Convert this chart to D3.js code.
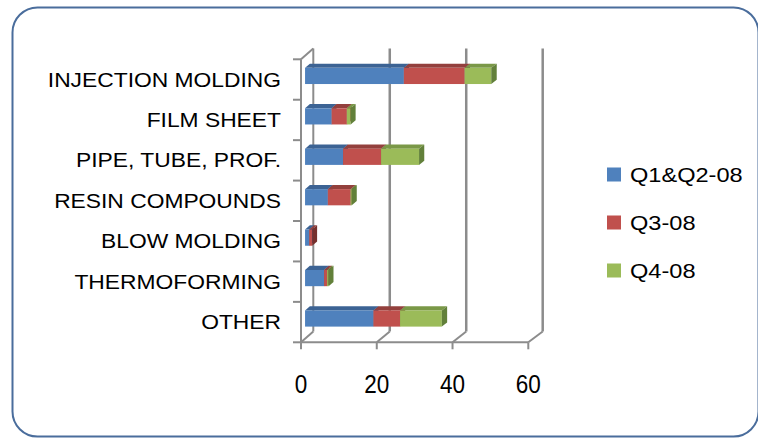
<!DOCTYPE html>
<html>
<head>
<meta charset="utf-8">
<script src="https://cdn.jsdelivr.net/npm/d3@7"></script>
<style>
  html, body { margin: 0; padding: 0; background: #fff; }
  svg { display: block; }
  text { font-family: "Liberation Sans", Arial, sans-serif; fill: #000; }
</style>
</head>
<body>
<svg id="chart" width="758" height="438"></svg>
<script>
// Resin consumption by processing segment, stacked by period
const categories = ["INJECTION MOLDING", "FILM SHEET", "PIPE, TUBE, PROF.", "RESIN COMPOUNDS", "BLOW MOLDING", "THERMOFORMING", "OTHER"];
const seriesNames = ["Q1&Q2-08", "Q3-08", "Q4-08"];
const q1q2Values = [26, 7, 10, 6, 1.1, 5, 18];
const q3Values = [16, 4, 10, 6, 0.8, 0.8, 7];
const q4Values = [7, 1, 10, 0.3, 0, 0.4, 11];
const tickValues = [0, 20, 40, 60];

const seriesValues = [q1q2Values, q3Values, q4Values];
const frontColors = ["#4f81bd", "#c0504d", "#9bbb59"];
const topColors = ["#3c6394", "#93403d", "#7a9847"];
const sideColors = ["#2f5180", "#76302d", "#62803a"];

const svg = d3.select("#chart");

// Outer rounded frame
svg.append("rect")
  .attr("x", 12.5).attr("y", 7.5)
  .attr("width", 746).attr("height", 429)
  .attr("rx", 25).attr("ry", 25)
  .attr("fill", "#fff")
  .attr("stroke", "#4a6d9c")
  .attr("stroke-width", 2);

// 3D box geometry: front plane and back plane
const depth = { dx: 12.4, dy: -10.8 };
const frontTop = 59.3, frontBottom = 342.3;
const xFront = d3.scaleLinear().domain([0, 60]).range([301, 528.3]);
const xBack = d3.scaleLinear().domain([0, 60]).range([313.3, 542.7]);
const yBand = d3.scaleBand().domain(categories).range([frontTop, frontBottom])
  .paddingInner(0.6).paddingOuter(0.3);
const yCat = d3.scaleBand().domain(categories).range([frontTop, frontBottom]);

// value -> x at a given depth fraction t (0 = front plane, 1 = back wall)
const xAt = (v, t) => xFront(v) * (1 - t) + xBack(v) * t;

const gridColor = "#8c8c8c";
const walls = svg.append("g");

// back wall gridlines
tickValues.forEach(v => {
  walls.append("line")
    .attr("x1", xBack(v)).attr("x2", xBack(v))
    .attr("y1", frontTop + depth.dy).attr("y2", frontBottom + depth.dy)
    .attr("stroke", gridColor).attr("stroke-width", v === 0 ? 2 : 2.5);
  // floor diagonals
  walls.append("line")
    .attr("x1", xFront(v)).attr("y1", frontBottom)
    .attr("x2", xBack(v)).attr("y2", frontBottom + depth.dy)
    .attr("stroke", gridColor).attr("stroke-width", 2);
  // tick marks below the floor
  walls.append("line")
    .attr("x1", xFront(v)).attr("x2", xFront(v))
    .attr("y1", frontBottom).attr("y2", frontBottom + 7)
    .attr("stroke", gridColor).attr("stroke-width", 2);
});

// floor front edge
walls.append("line")
  .attr("x1", xFront(0)).attr("x2", xFront(60))
  .attr("y1", frontBottom).attr("y2", frontBottom)
  .attr("stroke", gridColor).attr("stroke-width", 2);

// side wall: front edge and top diagonal
walls.append("line")
  .attr("x1", xFront(0)).attr("x2", xFront(0))
  .attr("y1", frontTop).attr("y2", frontBottom)
  .attr("stroke", gridColor).attr("stroke-width", 2);
walls.append("line")
  .attr("x1", xFront(0)).attr("y1", frontTop)
  .attr("x2", xBack(0)).attr("y2", frontTop + depth.dy)
  .attr("stroke", gridColor).attr("stroke-width", 2);

// category ticks along the side wall
const catEdges = categories.map(c => yCat(c)).concat([frontBottom]);
catEdges.forEach(y => {
  walls.append("line")
    .attr("x1", xFront(0) - 8).attr("x2", xFront(0))
    .attr("y1", y).attr("y2", y)
    .attr("stroke", gridColor).attr("stroke-width", 2);
});

// stacked 3D bars
const tFront = 0.33, tBack = 0.72;
const stack = d3.stack().keys([0, 1, 2]).value((d, k) => seriesValues[k][d]);
const stacked = stack(d3.range(categories.length));
const bars = svg.append("g");

categories.forEach((cat, i) => {
  const yTopF = yBand(cat) + depth.dy * tFront;
  const h = yBand.bandwidth();
  const oy = depth.dy * (tBack - tFront);
  stacked.forEach((layer, k) => {
    const v0 = layer[i][0], v1 = layer[i][1];
    if (v1 - v0 <= 0) return;
    const x0 = xAt(v0, tFront), x1 = xAt(v1, tFront);
    const bx0 = xAt(v0, tBack), bx1 = xAt(v1, tBack);
    const g = bars.append("g");
    // top face
    g.append("path")
      .attr("d", `M${x0},${yTopF}L${bx0},${yTopF + oy}L${bx1},${yTopF + oy}L${x1},${yTopF}Z`)
      .attr("fill", topColors[k]);
    // front face
    g.append("rect")
      .attr("x", x0).attr("y", yTopF)
      .attr("width", x1 - x0).attr("height", h)
      .attr("fill", frontColors[k]);
    // end face
    g.append("path")
      .attr("d", `M${x1},${yTopF}L${bx1},${yTopF + oy}L${bx1},${yTopF + oy + h}L${x1},${yTopF + h}Z`)
      .attr("fill", sideColors[k]);
  });
});

// category labels
const catScale = 1.17;
categories.forEach(cat => {
  svg.append("text")
    .attr("transform", `translate(281,${yCat(cat) + yCat.bandwidth() / 2}) scale(${catScale},1)`)
    .attr("text-anchor", "end")
    .attr("dy", "0.36em")
    .style("font-size", "19.5px")
    .text(cat);
});

// value axis labels
tickValues.forEach(v => {
  svg.append("text")
    .attr("transform", `translate(${xFront(v)},393) scale(0.9,1)`)
    .attr("text-anchor", "middle")
    .style("font-size", "25px")
    .text(v);
});

// legend
const legendY = [174.5, 222.5, 270.5];
seriesNames.forEach((name, k) => {
  svg.append("rect")
    .attr("x", 607).attr("y", legendY[k] - 7)
    .attr("width", 14).attr("height", 14)
    .attr("fill", frontColors[k]);
  svg.append("text")
    .attr("transform", `translate(630,${legendY[k]}) scale(1.21,1)`)
    .attr("dy", "0.36em")
    .style("font-size", "19.5px")
    .text(name);
});
</script>
</body>
</html>
